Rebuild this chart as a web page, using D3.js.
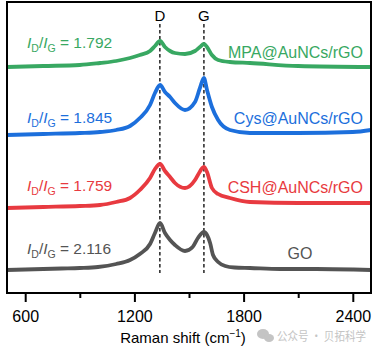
<!DOCTYPE html>
<html><head><meta charset="utf-8">
<script src="https://cdn.jsdelivr.net/npm/d3@7"></script>
<style>body{margin:0;background:#fff}svg{display:block}</style>
</head><body>
<svg id="c" width="379" height="351"></svg>
<script>
// Raman shift (cm-1) and stacked intensities (a.u., offset already applied)
const goShift = [500,600,700,800,900,1000,1100,1176,1230,1286,1313,1341,1368,1396,1423,1478,1520,1549,1582,1599,1616,1632,1660,1699,1750,1835,2000,2200,2400,2500];
const goI     = [23,23.5,24,24.5,25,26,29,33,39,49,60,70,60,53,48,42,46,55,61,58,50,38,31,27,25.5,25,24,24,23.5,23];

const cshShift = [500,700,900,1011,1100,1176,1230,1286,1313,1341,1368,1396,1423,1478,1533,1549,1582,1599,1626,1660,1725,1835,2100,2500];
const cshI     = [85,86,87,88,91,95,103,115,124,129,122,116,110,105,113,118,126,121,105,99,95,91,90,90];

const cysShift = [500,700,900,1011,1100,1176,1230,1286,1313,1341,1368,1396,1423,1478,1533,1560,1582,1599,1626,1660,1725,1835,2100,2400,2500];
const cysI     = [158,159,160,161,163,167,175,188,200,208,201,196,190,183,191,205,215,203,186,173,163,160,160,161,163];

const mpaShift = [500,700,900,1011,1100,1176,1230,1286,1313,1341,1368,1396,1423,1478,1533,1560,1582,1599,1626,1660,1725,1835,2100,2500];
const mpaI     = [226,227,228,230,232,235,238,242,247,252,246,242,240,239,242,246,249,246,238,233,231,230,227,226];

const seriesNames = ["GO","CSH@AuNCs/rGO","Cys@AuNCs/rGO","MPA@AuNCs/rGO"];
const ratios = ["2.116","1.759","1.845","1.792"];
const colors = ["#545454","#e83a40","#1c6fdc","#38a862"];
const xTicks = [600,1200,1800,2400];
const xMinor = [900,1500,2100];
const bandLabels = ["D","G"];
const bandPos = [1340,1582];

const series = [
  {shift: goShift, I: goI},
  {shift: cshShift, I: cshI},
  {shift: cysShift, I: cysI},
  {shift: mpaShift, I: mpaI}
];

const svg = d3.select("#c");
const x = d3.scaleLinear().domain([500,2500]).range([7,371]);
const y = d3.scaleLinear().domain([0,290]).range([293,3]);
const font = "'Liberation Sans', Arial, sans-serif";

// dashed band lines
bandPos.forEach((b,i)=>{
  svg.append("line").attr("x1",x(b)).attr("x2",x(b)).attr("y1",24).attr("y2",273)
    .attr("stroke","#000").attr("stroke-width",1.3).attr("stroke-dasharray","3.5,2.5");
  svg.append("text").attr("x",x(b)).attr("y",21).attr("text-anchor","middle")
    .attr("font-family",font).attr("font-size",15).text(bandLabels[i]);
});

// curves
const line = d3.line().x(d=>x(d[0])).y(d=>y(d[1])).curve(d3.curveMonotoneX);
series.forEach((s,i)=>{
  const pts = s.shift.map((v,j)=>[v,s.I[j]]);
  svg.append("path").attr("d",line(pts)).attr("fill","none")
    .attr("stroke",colors[i]).attr("stroke-width",3.8).attr("stroke-linejoin","round");
});

// labels
const leftBase = [254,191,123,48];
const rightBase = [259,193,124,58];
series.forEach((s,i)=>{
  const t = svg.append("text").attr("x",27).attr("y",leftBase[i])
    .attr("font-family",font).attr("font-size",15.5).attr("fill",colors[i]);
  t.append("tspan").attr("font-style","italic").text("I");
  t.append("tspan").attr("font-size",10.5).attr("dy",4).text("D");
  t.append("tspan").attr("dy",-4).text("/");
  t.append("tspan").attr("font-style","italic").text("I");
  t.append("tspan").attr("font-size",10.5).attr("dy",4).text("G");
  t.append("tspan").attr("dy",-4).text(" = " + ratios[i]);
  const r = svg.append("text").attr("y",rightBase[i]).attr("font-family",font)
    .attr("font-size",16).attr("fill",colors[i]).text(seriesNames[i]);
  if (i===0) r.attr("x",300).attr("text-anchor","middle");
  else r.attr("x",363).attr("text-anchor","end");
});

// axes
const ax = svg.append("g").attr("transform","translate(0,293)")
  .call(d3.axisBottom(x).tickValues(xTicks).tickSize(9).tickPadding(9).tickFormat(d3.format("d")));
ax.select(".domain").remove();
ax.selectAll("line").attr("stroke-width",2);
ax.selectAll("text").attr("font-family",font).attr("font-size",16).attr("fill","#000");
const axm = svg.append("g").attr("transform","translate(0,293)")
  .call(d3.axisBottom(x).tickValues(xMinor).tickSize(5).tickFormat(""));
axm.select(".domain").remove();
axm.selectAll("line").attr("stroke-width",2);

// frame
svg.append("rect").attr("x",7).attr("y",2).attr("width",364).attr("height",291)
  .attr("fill","none").attr("stroke","#000").attr("stroke-width",2);

// axis title
const at = svg.append("text").attr("x",183).attr("y",343).attr("text-anchor","middle")
  .attr("font-family",font).attr("font-size",15);
at.append("tspan").text("Raman shift (cm");
at.append("tspan").attr("font-size",10).attr("dy",-6).text("\u22121");
at.append("tspan").attr("dy",6).text(")");

// watermark
const wm = svg.append("g").attr("fill","#c4c4c4");
wm.append("ellipse").attr("cx",263).attr("cy",334).attr("rx",6).attr("ry",5);
wm.append("ellipse").attr("cx",269).attr("cy",338).attr("rx",5).attr("ry",4);
wm.append("text").attr("x",277).attr("y",341).attr("font-family","'Noto Sans CJK SC', sans-serif")
  .attr("font-size",12).attr("textLength",89).attr("lengthAdjust","spacingAndGlyphs")
  .text("公众号 · 贝拓科学");
</script>
</body></html>
